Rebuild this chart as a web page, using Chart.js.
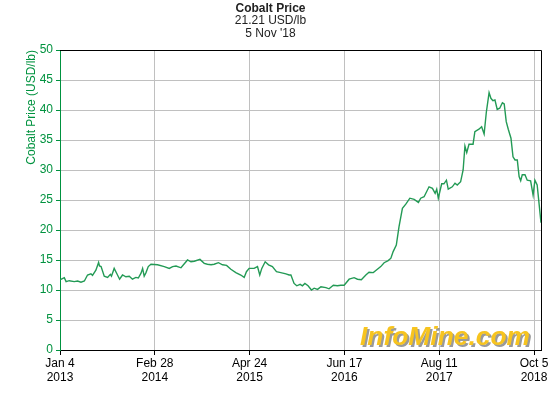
<!DOCTYPE html>
<html>
<head>
<meta charset="utf-8">
<script src="https://cdn.jsdelivr.net/npm/chart.js@4/dist/chart.umd.min.js"></script>
<style>
  html, body { margin: 0; padding: 0; background: #fff; }
  #wrap { width: 560px; height: 400px; }
</style>
</head>
<body>
<div id="wrap"><canvas id="cobaltChart"></canvas></div>
<script>
/* Cobalt price, USD/lb */

const START_DATE = Date.UTC(2013, 0, 4);   // day 0 = Jan 4 2013
const LAST_DAY = 2131;                      // Nov 5 2018
const TICK_DAYS = [0, 420, 840, 1260, 1680, 2100];
const MONTHS = ['Jan', 'Feb', 'Mar', 'Apr', 'May', 'Jun', 'Jul', 'Aug', 'Sep', 'Oct', 'Nov', 'Dec'];

// days since Jan 4 2013
const dayOffsets = [
    0, 19, 27, 41, 63, 78, 93, 108, 122, 137, 144, 159, 171, 175, 182, 196, 211, 223, 228, 240,
    252, 264, 277, 292, 307, 321, 336, 347, 359, 366, 373, 381, 391, 403, 432, 462, 484, 499, 514, 536,
    565, 580, 595, 620, 639, 653, 669, 683, 702, 720, 738, 757, 779, 801, 816, 826, 838, 860, 875, 885,
    894, 909, 924, 941, 959, 978, 1001, 1015, 1023, 1037, 1049, 1064, 1074, 1085, 1099, 1114, 1126, 1141, 1156, 1178,
    1192, 1211, 1229, 1244, 1259, 1281, 1303, 1318, 1335, 1355, 1369, 1388, 1406, 1421, 1436, 1454, 1466, 1476, 1490, 1502,
    1517, 1532, 1550, 1569, 1588, 1598, 1613, 1635, 1650, 1662, 1669, 1676, 1691, 1701, 1712, 1720, 1738, 1750, 1760, 1775,
    1786, 1794, 1802, 1812, 1830, 1838, 1856, 1868, 1879, 1889, 1901, 1909, 1918, 1927, 1937, 1948, 1960, 1968, 1977, 1986,
    1998, 2007, 2016, 2026, 2034, 2041, 2048, 2060, 2070, 2085, 2096, 2104, 2114, 2131
];

const prices = [
    11.7, 12.05, 11.4, 11.55, 11.4, 11.5, 11.3, 11.5, 12.5, 12.7, 12.45, 13.3, 14.6, 14.0, 13.9, 12.3, 12.1, 12.6, 12.3, 13.6,
    12.7, 11.8, 12.5, 12.2, 12.3, 11.8, 12.1, 12.0, 12.8, 13.6, 12.3, 12.9, 13.9, 14.3, 14.2, 13.9, 13.6, 13.9, 14.0, 13.7,
    15.0, 14.7, 14.8, 15.1, 14.45, 14.3, 14.2, 14.3, 14.55, 14.2, 14.1, 13.45, 12.9, 12.5, 12.1, 13.05, 13.6, 13.6, 13.9, 12.5,
    13.6, 14.7, 14.2, 13.9, 13.05, 12.9, 12.7, 12.5, 12.5, 11.1, 10.7, 10.95, 10.7, 11.1, 10.7, 10.0, 10.3, 10.1, 10.55, 10.4,
    10.2, 10.8, 10.7, 10.8, 10.8, 11.8, 12.05, 11.8, 11.7, 12.5, 12.95, 12.9, 13.45, 13.9, 14.55, 14.9, 15.3, 16.4, 17.5, 20.55,
    23.6, 24.3, 25.3, 25.1, 24.6, 25.3, 25.55, 27.2, 26.95, 26.1, 26.8, 25.3, 27.7, 27.7, 28.3, 26.8, 27.2, 27.8, 27.5, 28.05,
    30.0, 34.0, 32.9, 34.3, 34.3, 36.4, 36.8, 37.2, 36.0, 39.7, 42.9, 41.95, 41.55, 41.67, 40.1, 40.3, 41.2, 41.0, 38.05, 36.8,
    35.3, 32.2, 31.67, 31.67, 28.9, 28.2, 29.2, 29.2, 28.3, 28.2, 25.8, 28.3, 27.5, 21.21
];

const yTicks = [0, 5, 10, 15, 20, 25, 30, 35, 40, 45, 50];

const GREEN = '#00923f';
const FONT = "'Liberation Sans', Arial, sans-serif";

function dayLabel(day) {
    const d = new Date(START_DATE + day * 86400000);
    return [MONTHS[d.getUTCMonth()] + ' ' + d.getUTCDate(), String(d.getUTCFullYear())];
}

// top and right black border + watermark
const framePlugin = {
    id: 'frame',
    beforeDatasetsDraw(chart) {
        const { ctx, chartArea } = chart;
        const text = 'InfoMine.com';
        ctx.save();
        ctx.font = "italic bold 26px " + FONT;
        const w = ctx.measureText(text).width;
        const scale = 170 / w;
        ctx.translate(360, 345);
        ctx.scale(scale, 1);
        ctx.textBaseline = 'alphabetic';
        ctx.fillStyle = '#9a9a9a';
        ctx.fillText(text, 2, 2);
        ctx.fillStyle = '#f7c41f';
        ctx.fillText(text, 0, 0);
        ctx.restore();
    },
    afterDraw(chart) {
        const { ctx, chartArea } = chart;
        ctx.save();
        ctx.strokeStyle = '#000';
        ctx.lineWidth = 1;
        ctx.beginPath();
        ctx.moveTo(chartArea.left, chartArea.top + 0.5);
        ctx.lineTo(chartArea.right + 0.5, chartArea.top + 0.5);
        ctx.lineTo(chartArea.right + 0.5, chartArea.bottom);
        ctx.stroke();
        ctx.restore();
    }
};

const points = dayOffsets.map((d, i) => ({ x: d, y: prices[i] }));

new Chart(document.getElementById('cobaltChart'), {
    type: 'line',
    data: {
        datasets: [{
            label: 'Cobalt Price',
            data: points,
            borderColor: '#239a55',
            borderWidth: 1.4,
            pointRadius: 0,
            tension: 0,
            fill: false
        }]
    },
    options: {
        responsive: true,
        maintainAspectRatio: false,
        animation: false,
        layout: { padding: { left: 0, right: 19, top: 0, bottom: 0 } },
        plugins: {
            legend: { display: false },
            tooltip: { enabled: false },
            title: {
                display: true,
                text: 'Cobalt Price',
                color: '#222',
                font: { family: FONT, size: 12, weight: 'bold', lineHeight: 1.05 },
                padding: { top: 2, bottom: 0 }
            },
            subtitle: {
                display: true,
                text: ['21.21 USD/lb', "5 Nov '18"],
                color: '#222',
                font: { family: FONT, size: 12, lineHeight: 1.05 },
                padding: { top: 0, bottom: 10.2 }
            }
        },
        scales: {
            x: {
                type: 'linear',
                min: 0,
                max: LAST_DAY,
                afterBuildTicks: (scale) => { scale.ticks = TICK_DAYS.map(v => ({ value: v })); },
                afterFit: (scale) => { scale.height = 50; },
                ticks: {
                    color: '#000',
                    font: { family: FONT, size: 12, lineHeight: 1.15 },
                    padding: 2,
                    maxRotation: 0,
                    autoSkip: false,
                    callback: (v) => dayLabel(v)
                },
                grid: { color: '#c0c0c0', tickColor: '#000', tickLength: 5, lineWidth: 1 },
                border: { color: '#000', width: 1 }
            },
            y: {
                min: 0,
                max: 50,
                afterBuildTicks: (scale) => { scale.ticks = yTicks.map(v => ({ value: v })); },
                afterFit: (scale) => { scale.width = 60; },
                ticks: {
                    color: GREEN,
                    font: { family: FONT, size: 12 },
                    padding: 3
                },
                grid: { color: '#c0c0c0', tickColor: GREEN, tickLength: 4, lineWidth: 1 },
                border: { color: GREEN, width: 1 },
                title: {
                    display: true,
                    text: 'Cobalt Price (USD/lb)',
                    color: GREEN,
                    align: 'end',
                    font: { family: FONT, size: 12 },
                    padding: { top: 24, bottom: 0 }
                }
            }
        }
    },
    plugins: [framePlugin]
});
</script>
</body>
</html>
